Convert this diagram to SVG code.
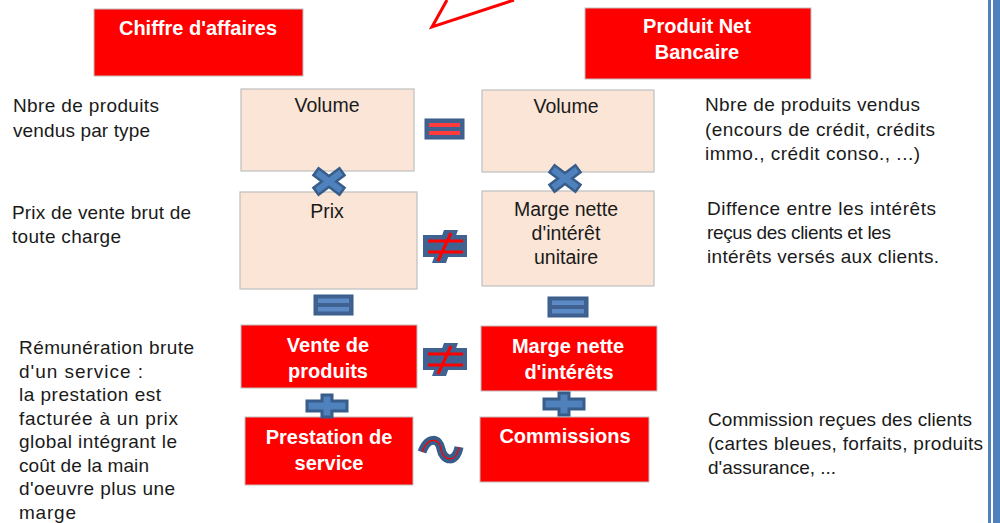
<svg xmlns="http://www.w3.org/2000/svg" width="1000" height="523" viewBox="0 0 1000 523">
<style>
text{font-family:"Liberation Sans",Arial,sans-serif}
.red{fill:#ff0000;stroke:#bfbfbf;stroke-width:1}
.peach{fill:#fbe5d6;stroke:#bfbfbf;stroke-width:1.2}
.bt{fill:#ffffff;font-weight:bold;font-size:20px;text-anchor:middle}
.pt{fill:#1a1a1a;font-size:19.5px;text-anchor:middle}
.side{fill:#1a1a1a;font-size:19px}
.xs{stroke:#385d8a;stroke-width:11;stroke-linecap:butt;fill:none}
.xi{stroke:#4f81bd;stroke-width:6;stroke-linecap:butt;fill:none}
.plus{fill:#4f81bd;stroke:#385d8a;stroke-width:3;stroke-linejoin:miter}
</style>
<rect x="988" y="0" width="3" height="523" fill="#4f81bd"/>
<rect x="993" y="0" width="7" height="523" fill="#4f81bd"/>
<polyline points="447,0 432,27 514,0" fill="none" stroke="#ff0000" stroke-width="3" stroke-linejoin="miter"/>

<g id="ca"><rect class="red" x="94" y="9" width="209" height="67"/><text class="bt" x="198" y="35">Chiffre d'affaires</text></g>
<g id="pnb"><rect class="red" x="585" y="8" width="226" height="71"/><text class="bt" x="697" y="33">Produit Net</text><text class="bt" x="697" y="59">Bancaire</text></g>

<g id="vol1"><rect class="peach" x="241" y="89" width="173" height="82"/><text class="pt" x="327" y="112">Volume</text></g>
<g id="vol2"><rect class="peach" x="482" y="90" width="172" height="82"/><text class="pt" x="566" y="113">Volume</text></g>
<g id="prix"><rect class="peach" x="240" y="192" width="177" height="97"/><text class="pt" x="327" y="218">Prix</text></g>
<g id="marge"><rect class="peach" x="482" y="191" width="172" height="95"/><text class="pt" x="566" y="216">Marge nette</text><text class="pt" x="566" y="240">d'intérêt</text><text class="pt" x="566" y="264">unitaire</text></g>

<g id="vente"><rect class="red" x="241" y="325" width="176" height="63"/><text class="bt" x="328" y="352">Vente de</text><text class="bt" x="328" y="378">produits</text></g>
<g id="mni"><rect class="red" x="481" y="326" width="176" height="65"/><text class="bt" x="568" y="353">Marge nette</text><text class="bt" x="569" y="379">d'intérêts</text></g>
<g id="presta"><rect class="red" x="245" y="417" width="168" height="68"/><text class="bt" x="329" y="444">Prestation de</text><text class="bt" x="329" y="470">service</text></g>
<g id="comm"><rect class="red" x="480" y="417" width="169" height="65"/><text class="bt" x="565" y="443">Commissions</text></g>

<g id="connectors">
<rect x="425" y="119" width="39" height="20" fill="#3f6290" stroke="#385d8a"/>
<rect x="429" y="123" width="31" height="4" fill="#ff3b3b"/>
<rect x="429" y="131" width="31" height="4" fill="#ff3b3b"/>
<path class="xs" d="M315,171 L343,192 M315,192 L343,171"/>
<path class="xi" d="M317,172.5 L341,190.5 M317,190.5 L341,172.5"/>
<path class="xs" d="M551,168 L579,189 M551,189 L579,168"/>
<path class="xi" d="M553,169.5 L577,187.5 M553,187.5 L577,169.5"/>
<g id="neq1">
<rect x="423" y="235" width="44" height="22" fill="#3f6290"/>
<path d="M444,230 L458,230 L446,263 L432,263 Z" fill="#3f6290"/>
<path d="M428,241 L463,241 M428,252 L463,252 M451,233 L438,261" stroke="#ff0000" stroke-width="3" fill="none"/>
</g>
<g id="neq2">
<rect x="423" y="348" width="44" height="22" fill="#3f6290"/>
<path d="M444,343 L458,343 L446,376 L432,376 Z" fill="#3f6290"/>
<path d="M428,354 L463,354 M428,365 L463,365 M451,346 L438,374" stroke="#ff0000" stroke-width="3" fill="none"/>
</g>
<rect x="314" y="295" width="39" height="20" fill="#3f6290" stroke="#385d8a"/>
<rect x="318" y="298.5" width="31" height="4.5" fill="#5b8ac6"/>
<rect x="318" y="307" width="31" height="4.5" fill="#5b8ac6"/>
<rect x="548" y="297" width="40" height="20" fill="#3f6290" stroke="#385d8a"/>
<rect x="552" y="300.5" width="32" height="4.5" fill="#5b8ac6"/>
<rect x="552" y="309" width="32" height="4.5" fill="#5b8ac6"/>
<path class="plus" d="M322,395 L332,395 L332,401 L347,401 L347,411 L332,411 L332,417 L322,417 L322,411 L307,411 L307,401 L322,401 Z"/>
<path class="plus" d="M559,393 L569,393 L569,399 L584,399 L584,409 L569,409 L569,415 L559,415 L559,409 L544,409 L544,399 L559,399 Z"/>
<path d="M422,452 C428,436 439,438 441,449 C443,461 456,464 459,447" fill="none" stroke="#385d8a" stroke-width="9"/>
<path d="M422,452 C428,436 439,438 441,449 C443,461 456,464 459,447" fill="none" stroke="#ff0000" stroke-width="1.3"/>
</g>

<g id="side-left">
<text class="side" x="13" y="112" textLength="146">Nbre de produits</text>
<text class="side" x="13" y="137" textLength="137">vendus par type</text>
<text class="side" x="12" y="219" textLength="179">Prix de vente brut de</text>
<text class="side" x="12" y="243" textLength="109">toute charge</text>
<text class="side" x="19" y="354" textLength="175">Rémunération brute</text>
<text class="side" x="19" y="378" textLength="124">d'un service :</text>
<text class="side" x="19" y="401" textLength="142">la prestation est</text>
<text class="side" x="19" y="425" textLength="159">facturée à un prix</text>
<text class="side" x="19" y="448" textLength="158">global intégrant le</text>
<text class="side" x="19" y="472" textLength="130">coût de la main</text>
<text class="side" x="19" y="495" textLength="156">d'oeuvre plus une</text>
<text class="side" x="19" y="519" textLength="57">marge</text>
</g>
<g id="side-right">
<text class="side" x="705" y="111" textLength="215">Nbre de produits vendus</text>
<text class="side" x="705" y="136" textLength="230">(encours de crédit, crédits</text>
<text class="side" x="705" y="160" textLength="215">immo., crédit conso., ...)</text>
<text class="side" x="707" y="215" textLength="229">Diffence entre les intérêts</text>
<text class="side" x="707" y="239" textLength="184">reçus des clients et les</text>
<text class="side" x="707" y="263" textLength="232">intérêts versés aux clients.</text>
<text class="side" x="708" y="426" textLength="264">Commission reçues des clients</text>
<text class="side" x="708" y="450" textLength="275">(cartes bleues, forfaits, produits</text>
<text class="side" x="708" y="474" textLength="128">d'assurance, ...</text>
</g>
</svg>
